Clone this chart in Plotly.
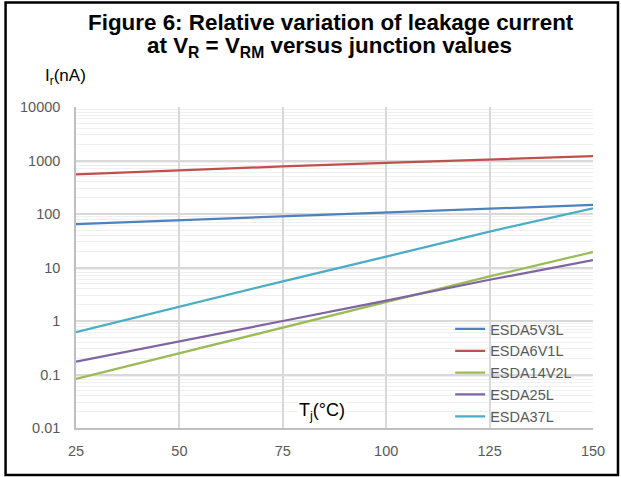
import plotly.graph_objects as go

temps = [25, 50, 75, 100, 125, 150]
series_names = ["ESDA5V3L", "ESDA6V1L", "ESDA14V2L", "ESDA25L", "ESDA37L"]
esda5v3l = [65, 77, 90, 106, 125, 148]
esda6v1l = [550, 660, 775, 900, 1045, 1210]
esda14v2l = [0.083, 0.25, 0.76, 2.25, 6.8, 19.5]
esda25l = [0.173, 0.41, 1.0, 2.4, 5.9, 13.7]
esda37l = [0.62, 1.87, 5.5, 16.0, 47.0, 128.0]
series_values = [esda5v3l, esda6v1l, esda14v2l, esda25l, esda37l]
colors = ["#4F81BD", "#C0504D", "#9BBB59", "#8064A2", "#4BACC6"]

y_tickvals = [0.01, 0.1, 1, 10, 100, 1000, 10000]
y_ticktext = ["0.01", "0.1", "1", "10", "100", "1000", "10000"]
x_tickvals = [25, 50, 75, 100, 125, 150]

minor_vals = [m * 10 ** e for e in range(-2, 4) for m in range(2, 10)]

FONT = "Liberation Sans, Arial, sans-serif"

fig = go.Figure()
for name, vals, col in zip(series_names, series_values, colors):
    fig.add_trace(go.Scatter(x=temps, y=vals, mode="lines", name=name,
                             line=dict(color=col, width=2.25)))

W, H = 621, 477
L, R, T, B = 75.5, 593, 107, 428


def px_x(p):
    return (p - L) / (R - L)


def px_y(p):
    return (B - p) / (B - T)


fig.update_layout(
    width=W, height=H,
    margin=dict(l=L, r=W - R, t=T, b=H - B, pad=0),
    paper_bgcolor="white", plot_bgcolor="white",
    showlegend=True,
    legend=dict(x=px_x(450), y=px_y(313), xanchor="left", yanchor="top",
                bgcolor="rgba(0,0,0,0)", font=dict(family=FONT, size=14.5, color="#595959"),
                itemwidth=30, tracegroupgap=0),
    font=dict(family=FONT),
)

fig.update_xaxes(range=[25, 150], tickvals=x_tickvals, ticks="",
                 showgrid=True, gridcolor="#d9d9d9", gridwidth=1.5,
                 showline=True, linecolor="#bfbfbf", linewidth=1.5,
                 tickfont=dict(family=FONT, size=14.5, color="#595959"),
                 ticklabelstandoff=9,
                 zeroline=False)
fig.update_yaxes(type="log", range=[-2, 4], tickvals=y_tickvals, ticktext=y_ticktext,
                 ticks="", showgrid=True, gridcolor="#d9d9d9", gridwidth=1.5,
                 showline=True, linecolor="#bfbfbf", linewidth=1.5,
                 tickfont=dict(family=FONT, size=14.5, color="#595959"),
                 ticklabelstandoff=11,
                 minor=dict(tickvals=minor_vals, showgrid=True, gridcolor="#f0f0f0",
                            gridwidth=1, ticks=""),
                 zeroline=False)

# frame
fig.add_shape(type="rect", xref="paper", yref="paper",
              x0=px_x(5), x1=px_x(618), y0=px_y(475), y1=px_y(2.5),
              line=dict(color="black", width=2.5), fillcolor="rgba(0,0,0,0)", layer="above")

ann = [
    dict(text="<b>Figure 6: Relative variation of leakage current</b>", x=px_x(331), y=px_y(22),
         size=22.4),
    dict(text="<b>at V<sub>R</sub> = V<sub>RM</sub> versus junction values</b>", x=px_x(329), y=px_y(46.5),
         size=22.4),
    dict(text="I<sub>r</sub>(nA)", x=px_x(42), y=px_y(77), xanchor="left", size=17),
    dict(text="T<sub>j</sub>(°C)", x=px_x(322), y=px_y(411), size=18, bgcolor="white"),
]
for a in ann:
    fig.add_annotation(xref="paper", yref="paper", showarrow=False, yanchor="middle",
                       xanchor=a.get("xanchor", "center"), x=a["x"], y=a["y"], text=a["text"],
                       font=dict(family=FONT, size=a["size"], color="black"),
                       bgcolor=a.get("bgcolor", "rgba(0,0,0,0)"))

fig.write_html("out.html", config={"displayModeBar": False},
               post_script="document.body.style.margin='0';")
